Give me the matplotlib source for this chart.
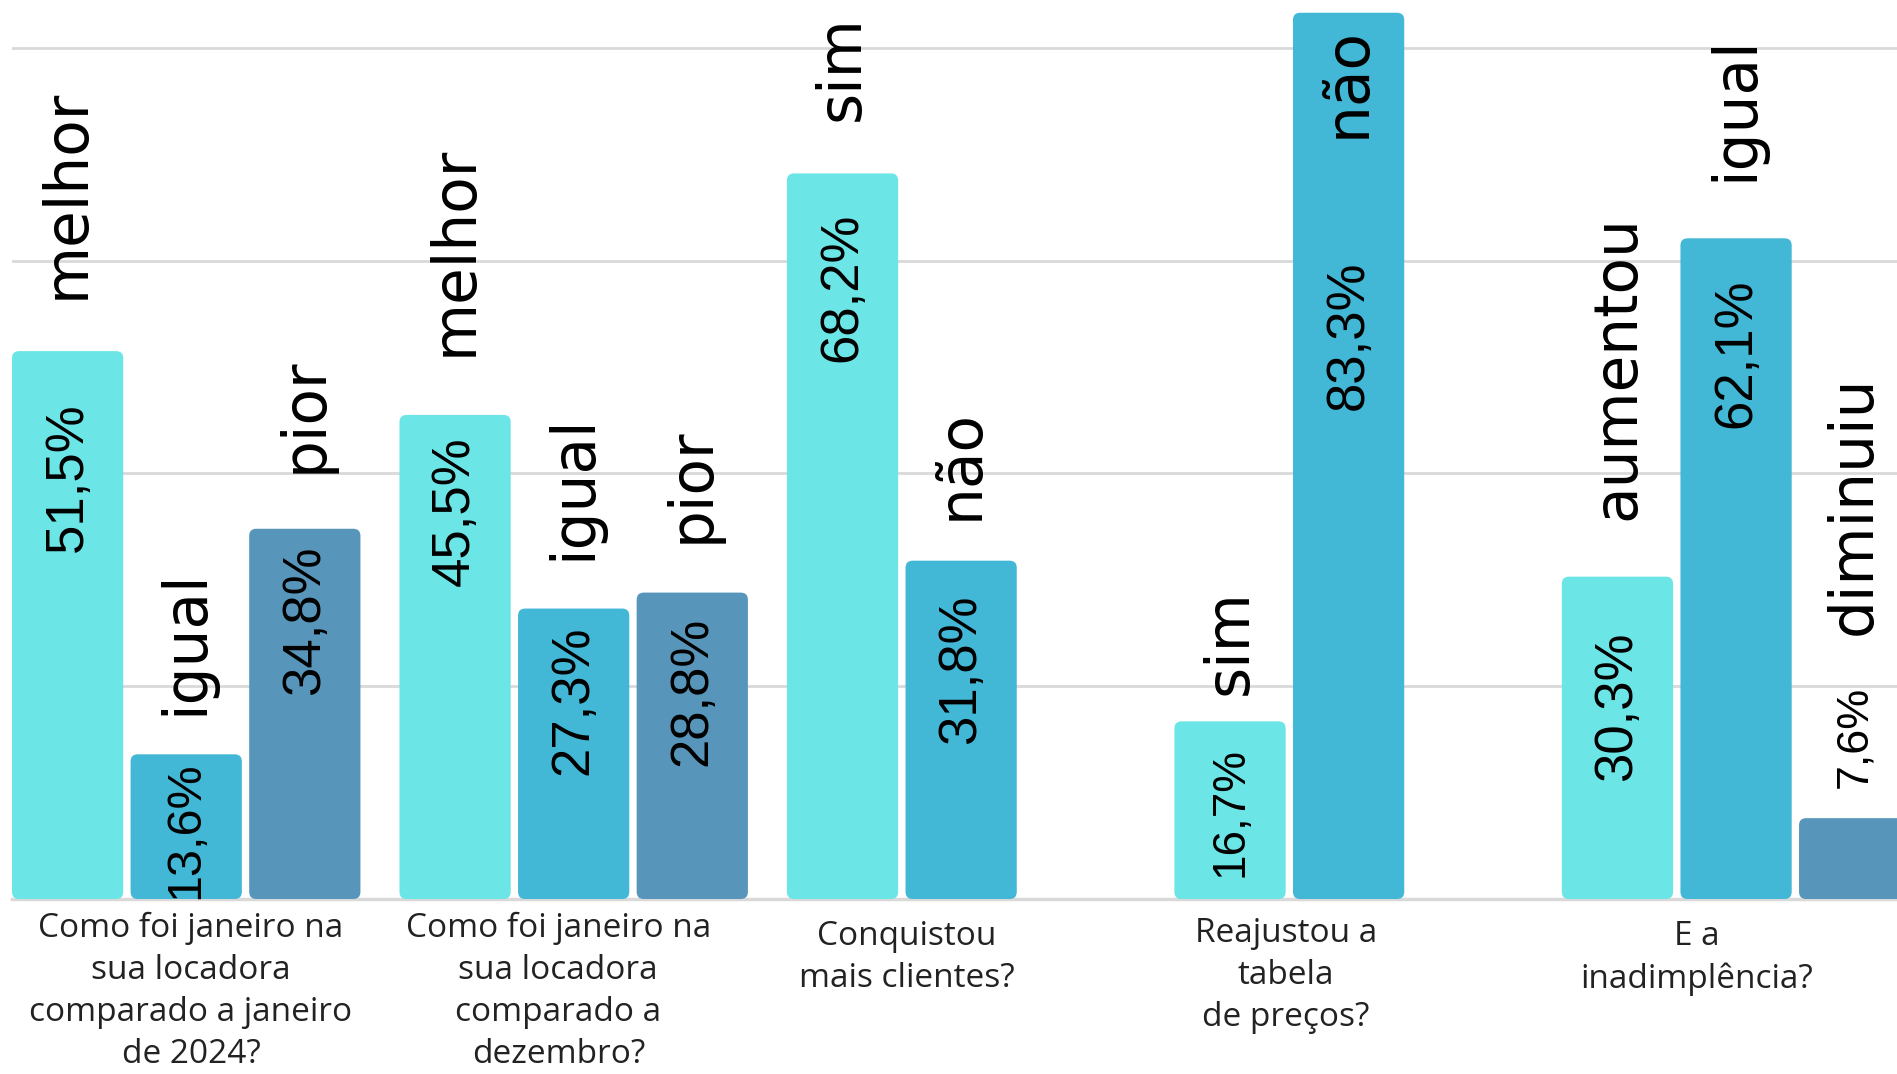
import matplotlib
matplotlib.use("Agg")
import matplotlib.pyplot as plt
from matplotlib.patches import FancyBboxPatch

# survey answers, one group per question
questions = [
    "Como foi janeiro na\nsua locadora\ncomparado a janeiro\nde 2024?",
    "Como foi janeiro na\nsua locadora\ncomparado a\ndezembro?",
    "Conquistou\nmais clientes?",
    "Reajustou a\ntabela\nde preços?",
    "E a\ninadimplência?",
]
answers = [
    ["melhor", "igual", "pior"],
    ["melhor", "igual", "pior"],
    ["sim", "não"],
    ["sim", "não"],
    ["aumentou", "igual", "diminuiu"],
]
values = [
    [51.5, 13.6, 34.8],
    [45.5, 27.3, 28.8],
    [68.2, 31.8],
    [16.7, 83.3],
    [30.3, 62.1, 7.6],
]

# label placement (y in % units)
value_top = [[46.7, 12.9, 33.2], [43.5, 25.7, 26.5], [64.5, 28.6], [14.3, 60.0], [25.1, 58.3, 20.0]]
answer_bottom = [[56.4, 17.3, 40.0], [51.0, 31.9, 33.5], [73.1, 35.6], [19.2, 71.5], [35.6, 67.5, 24.8]]
value_scale = [[1, 0.92, 1], [1, 1, 1], [1, 1], [0.87, 1], [1, 1, 0.85]]
question_nudge = [0.04, -0.13, 0.04, -0.03, -0.33]
question_drop = [0, 0, 0.8, 0.5, 0.8]

colors = ["#6CE5E7", "#42B7D6", "#5895BA"]
group_step = 3.267
bar_w = 0.938

fig = plt.figure(figsize=(18.97, 10.74), dpi=100)
ax = fig.add_axes([12 / 1897, 175 / 1074, 1885 / 1897, 899 / 1074])
ax.set_xlim(-bar_w / 2, 15.425)
ax.set_ylim(0, 84.5)

# pixel aspect of one data unit, for round corners
px_x = ax.bbox.width / (15.425 + bar_w / 2)
px_y = ax.bbox.height / 84.5

for g, vals in enumerate(values):
    xs = [g * group_step + s for s in range(len(vals))]
    bars = ax.bar(xs, vals, width=bar_w, color=colors[:len(vals)], zorder=2)
    for b in bars:
        b.set_visible(False)
        ax.add_patch(FancyBboxPatch((b.get_x(), 0), b.get_width(), b.get_height(),
                                    boxstyle="round,pad=0,rounding_size=0.06",
                                    mutation_aspect=px_x / px_y,
                                    fc=b.get_facecolor(), ec="none", zorder=2))
    for s, (x, v) in enumerate(zip(xs, vals)):
        ax.text(x, value_top[g][s], f"{v:.1f}%".replace(".", ","), rotation=90,
                ha="center", va="top", fontsize=38 * value_scale[g][s],
                family="Liberation Sans", color="black", zorder=3)
        ax.text(x, answer_bottom[g][s], answers[g][s], rotation=90,
                ha="center", va="bottom", fontsize=43, family="DejaVu Sans",
                color="black", zorder=3, clip_on=False)
    xc = (xs[0] + xs[-1]) / 2 + question_nudge[g]
    ax.text(xc, -1.2 - question_drop[g], questions[g], ha="center", va="top",
            fontsize=24, family="Open Sans", color="#222222", linespacing=1.36,
            clip_on=False)

ax.set_yticks([20, 40, 60, 80])
ax.yaxis.grid(True, color="#D9D9D9", lw=2)
ax.axhline(0, color="#D9D9D9", lw=2.5, zorder=1, clip_on=False)
ax.set_axisbelow(True)
ax.tick_params(left=False, bottom=False, labelleft=False, labelbottom=False)
for sp in ax.spines.values():
    sp.set_visible(False)

fig.savefig("out.png", dpi=100, facecolor="white")
